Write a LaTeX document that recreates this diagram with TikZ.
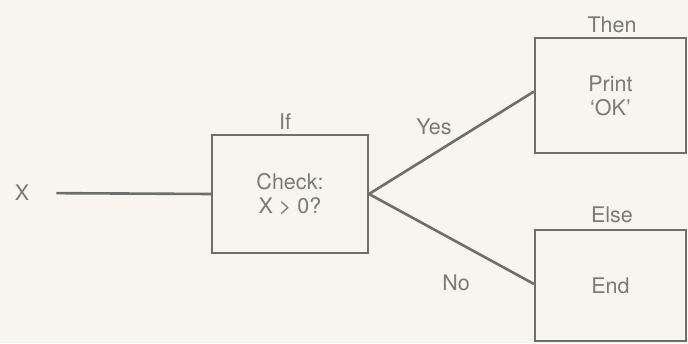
\documentclass[tikz,border=0pt]{standalone}
\usepackage{fontspec}
\setmainfont{TeX Gyre Heros}
\definecolor{paper}{HTML}{F7F5EE}
\definecolor{ink}{HTML}{6E6E6A}
\definecolor{txt}{HTML}{7A7A76}
\begin{document}
\begin{tikzpicture}[x=1pt,y=-1pt,
  box/.style={draw=ink,line width=2pt,rectangle,inner sep=0pt,align=center,text=txt,font=\fontsize{21.5}{24}\selectfont},
  lbl/.style={text=txt,inner sep=0pt,font=\fontsize{21.5}{24}\selectfont},
  conn/.style={draw=ink,line width=2.6pt}]
\fill[paper] (0,0) rectangle (688,343);
\useasboundingbox (0,0) rectangle (688,343);
\node[box,minimum width=156pt,minimum height=118pt] (check) at (290,194) {Check:\\X > 0?};
\node[box,minimum width=151pt,minimum height=115pt] (then) at (610.5,95.5) {Print\\`OK'};
\node[box,minimum width=151pt,minimum height=111pt] (else) at (610.5,285.5) {End};
\node[lbl] (x) at (22,193) {X};
\node[lbl] (if) at (285,122) {If};
\node[lbl] (yes) at (434,127) {Yes};
\node[lbl] (no) at (456,283) {No};
\node[lbl] (thenl) at (612,25) {Then};
\node[lbl] (elsel) at (612,215) {Else};
\draw[conn,shorten <=27pt] (x.east) -- (check.west);
\draw[conn] (check.east) -- ([yshift=4pt]then.west);
\draw[conn] (check.east) -- ([yshift=1.5pt]else.west);
\end{tikzpicture}
\end{document}
